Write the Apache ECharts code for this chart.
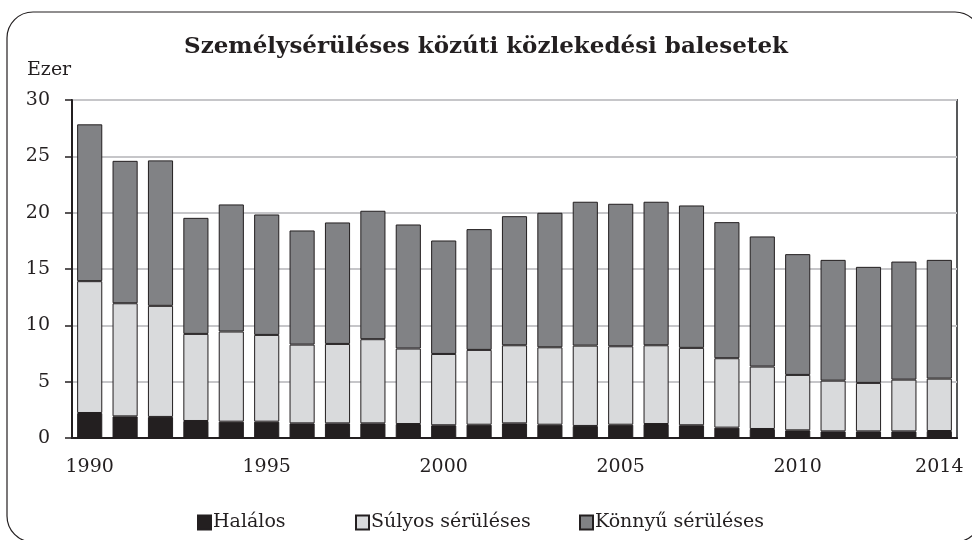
<!DOCTYPE html>
<html>
<head>
<meta charset="utf-8">
<script src="https://cdn.jsdelivr.net/npm/echarts@6/dist/echarts.min.js"></script>
<style>
  html, body { margin: 0; padding: 0; background: #fff; }
  #chart { width: 972px; height: 540px; }
</style>
</head>
<body>
<div id="chart"></div>
<script>
// evek
const years = ['1990', '1991', '1992', '1993', '1994', '1995', '1996', '1997', '1998', '1999',
  '2000', '2001', '2002', '2003', '2004', '2005', '2006', '2007', '2008', '2009',
  '2010', '2011', '2012', '2013', '2014']

// ezer baleset
const halalos = [2.22, 1.92, 1.87, 1.51, 1.45, 1.45, 1.30, 1.30, 1.30, 1.24,
  1.13, 1.18, 1.30, 1.18, 1.07, 1.18, 1.24, 1.13, 0.92, 0.80,
  0.68, 0.59, 0.59, 0.59, 0.62]
const sulyos = [11.70, 10.04, 9.86, 7.73, 8.00, 7.70, 6.99, 7.05, 7.47, 6.70,
  6.33, 6.64, 6.93, 6.87, 7.13, 6.96, 6.99, 6.87, 6.16, 5.54,
  4.92, 4.50, 4.30, 4.59, 4.65]
const konnyu = [13.92, 12.64, 12.91, 10.30, 11.28, 10.69, 10.13, 10.78, 11.40, 11.01,
  10.07, 10.72, 11.46, 11.94, 12.77, 12.65, 12.74, 12.64, 12.08, 11.55,
  10.72, 10.72, 10.30, 10.48, 10.54]

const shownYears = ['1990', '1995', '2000', '2005', '2010', '2014']

const font = '"DejaVu Serif", "Liberation Serif", serif'
const chart = echarts.init(document.getElementById('chart'))

function legendAt(name, left) {
  return {
    data: [name],
    left: left,
    top: 508,
    icon: 'rect',
    itemWidth: 13,
    itemHeight: 14,
    itemGap: 3,
    textStyle: { fontFamily: font, fontSize: 19, color: '#231f20', padding: [0, 0, 0, -3] }
  }
}

chart.setOption({
  animation: false,
  textStyle: { fontFamily: font },
  title: {
    text: 'Személysérüléses közúti közlekedési balesetek',
    left: 'center',
    top: 31,
    textStyle: { fontFamily: font, fontSize: 23, fontWeight: 'bold', color: '#231f20' }
  },
  graphic: [{
    type: 'rect',
    shape: { x: 7, y: 12, width: 974, height: 530, r: 26 },
    style: { fill: 'none', stroke: '#231f20', lineWidth: 1.2 },
    silent: true
  }],
  legend: [
    legendAt('Halálos', 192),
    legendAt('Súlyos sérüléses', 350),
    legendAt('Könnyű sérüléses', 574)
  ],
  grid: {
    left: 72,
    right: 15,
    top: 100,
    bottom: 102,
    show: true,
    borderColor: '#58595b',
    borderWidth: 2
  },
  xAxis: {
    type: 'category',
    data: years,
    axisLine: { lineStyle: { color: '#231f20', width: 2 } },
    axisTick: { show: false },
    axisLabel: {
      interval: 0,
      formatter: v => shownYears.includes(v) ? v : '',
      fontFamily: font,
      fontSize: 19,
      color: '#231f20',
      margin: 20
    }
  },
  yAxis: {
    type: 'value',
    min: 0,
    max: 30,
    interval: 5,
    name: 'Ezer',
    nameLocation: 'end',
    nameGap: 20,
    nameTextStyle: { fontFamily: font, fontSize: 19, color: '#231f20', align: 'left', padding: [0, 0, 0, -45] },
    axisLine: { show: true, lineStyle: { color: '#231f20', width: 2 } },
    axisTick: { show: true, length: 7, lineStyle: { color: '#231f20', width: 1.5 } },
    axisLabel: { fontFamily: font, fontSize: 19, color: '#231f20', margin: 22 },
    splitLine: { lineStyle: { color: '#c6c6c9', width: 2 } }
  },
  series: [{
    name: 'Halálos',
    type: 'bar',
    stack: 'all',
    barWidth: '71%',
    itemStyle: { color: '#231f20', borderColor: '#231f20', borderWidth: 1 },
    data: halalos
  }, {
    name: 'Súlyos sérüléses',
    type: 'bar',
    stack: 'all',
    itemStyle: { color: '#d9dadc', borderColor: '#231f20', borderWidth: 1 },
    data: sulyos
  }, {
    name: 'Könnyű sérüléses',
    type: 'bar',
    stack: 'all',
    itemStyle: { color: '#818285', borderColor: '#231f20', borderWidth: 1 },
    data: konnyu
  }]
})
</script>
</body>
</html>
